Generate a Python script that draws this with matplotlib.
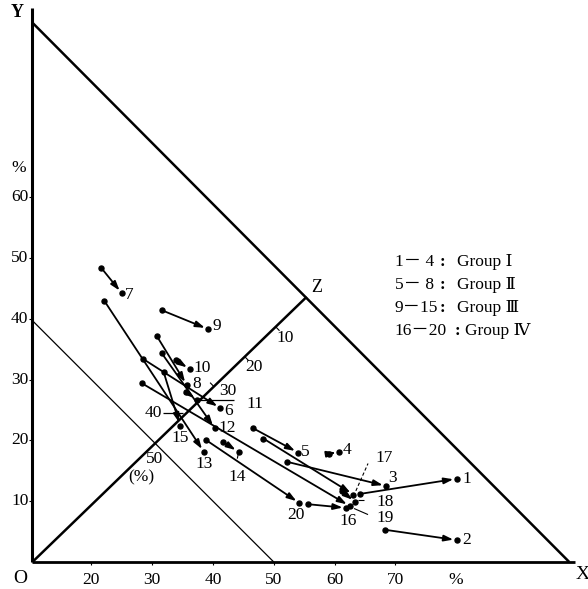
import matplotlib
matplotlib.use('Agg')
import matplotlib.pyplot as plt
import numpy as np

plt.rcParams['font.family'] = ['Liberation Serif', 'DejaVu Serif', 'Noto Sans CJK JP']

# sample numbers and their start / end positions (x %, y %)
ids = list(range(1, 21))
x_start = [64.2, 68.3, 52.1, 59.0, 46.6, 28.5, 21.6, 30.8, 31.6, 33.9,
           35.6, 31.6, 22.1, 41.6, 31.9, 55.7, 48.3, 61.2, 28.3, 38.8]
y_start = [11.2, 5.3, 16.5, 17.8, 22.0, 33.4, 48.4, 37.1, 41.4, 33.2,
           28.0, 34.3, 43.0, 19.8, 31.2, 9.5, 20.3, 11.6, 29.4, 20.1]
x_end = [80.1, 80.1, 68.5, 60.8, 54.0, 41.2, 25.0, 35.7, 39.2, 36.2,
         37.4, 40.3, 38.5, 44.2, 34.6, 61.9, 63.1, 63.4, 62.5, 54.2]
y_end = [13.7, 3.6, 12.5, 18.1, 18.0, 25.3, 44.2, 29.1, 38.3, 31.7,
         26.6, 22.0, 18.1, 18.1, 22.4, 8.9, 11.1, 9.9, 9.2, 9.7]

group_ranges = ['1－ 4', '5－ 8', '9－15', '16－20']
group_names = ['Group Ⅰ', 'Group Ⅱ', 'Group Ⅲ', 'Group Ⅳ']
x_ticks = [20, 30, 40, 50, 60, 70]
y_ticks = [10, 20, 30, 40, 50, 60]
diag_ticks = [10, 20, 30, 40, 50]

# frame of the diagram
O = (10.3, 0.0)
Yv = (10.3, 88.7)
Xv = (98.6, 0.0)
Z = (55.4, 43.6)

fig = plt.figure(figsize=(5.88, 5.89), dpi=100)
ax = fig.add_axes([0, 0, 1, 1])
ax.set_xlim(4.97, 101.68)
ax.set_ylim(-4.44, 92.43)
ax.axis('off')

k = dict(color='black', solid_capstyle='butt')
ax.plot([O[0], 99.6], [0, 0], lw=2.0, **k)
ax.plot([O[0], O[0]], [0, 91.1], lw=2.2, **k)
ax.plot([Yv[0], Xv[0]], [Yv[1], Xv[1]], lw=1.8, **k)
ax.plot([O[0], Z[0]], [O[1], Z[1]], lw=1.8, **k)
ax.plot([O[0], 50.0], [39.7, 0.0], lw=0.9, **k)

fs = 12.5
# axis ticks and labels
for v in x_ticks:
    ax.plot([v, v], [0, -0.5], lw=0.8, **k)
    ax.annotate(str(v), (v, 0), xytext=(0, -18), textcoords='offset pixels',
                ha='center', va='center', fontsize=fs)
ax.annotate('%', (80, 0), xytext=(0, -18), textcoords='offset pixels',
            ha='center', va='center', fontsize=fs)
for v in y_ticks:
    ax.plot([O[0] - 0.6, O[0]], [v, v], lw=0.8, **k)
    ax.annotate(str(v), (O[0], v), xytext=(-4, 0), textcoords='offset pixels',
                ha='right', va='center', fontsize=fs)
ax.annotate('%', (O[0], 64.8), xytext=(-14, 0), textcoords='offset pixels',
            ha='center', va='center', fontsize=fs)

ax.annotate('Y', Yv, xytext=(-15, 10), textcoords='offset pixels',
            ha='center', va='center', fontsize=13, fontweight='bold')
ax.annotate('O', O, xytext=(-12, -16), textcoords='offset pixels',
            ha='center', va='center', fontsize=14)
ax.annotate('X', Xv, xytext=(13, -12), textcoords='offset pixels',
            ha='center', va='center', fontsize=14)
ax.annotate('Z', Z, xytext=(10, 9), textcoords='offset pixels',
            ha='center', va='center', fontsize=13)

# scale along O-Z (distance from the X-Y side)
sO = O[0] + O[1]
sZ = Z[0] + Z[1]
d = np.array([Z[0] - O[0], Z[1] - O[1]])
u = d / np.hypot(*d)
nrm = np.array([u[1], -u[0]])
diag_off = {10: (9, -11), 20: (9, -10), 30: (14, -4), 40: (-30, 3), 50: (3, -13)}
for v in diag_ticks:
    t = (sZ - sO - v) / (sZ - sO)
    p = np.array(O) + t * d
    if v in (10, 20):
        a, b = p, p + nrm * 0.9
        ax.plot([a[0], b[0]], [a[1], b[1]], lw=0.8, **k)
    elif v == 30:
        a, b = p, p - nrm * 0.9
        ax.plot([a[0], b[0]], [a[1], b[1]], lw=0.8, **k)
    elif v == 40:
        ax.plot([p[0] - 3.3, p[0]], [p[1] + 0.5, p[1] + 0.5], lw=0.9, **k)
    ax.annotate(str(v), p, xytext=diag_off[v], textcoords='offset pixels',
                ha='center', va='center', fontsize=fs)
    if v == 50:
        ax.annotate('(%)', p, xytext=(-11, -31), textcoords='offset pixels',
                    ha='center', va='center', fontsize=fs)

# arrows
lab_off = {1: (10, 0), 2: (10, 0), 3: (6, 8), 4: (8, 2), 5: (7, 1), 6: (8, -3),
           7: (7, -2), 8: (10, 1), 9: (9, 3), 10: (12, 1), 11: (49, -4),
           12: (12, 0), 13: (0, -12), 14: (-1, -25), 15: (0, -12), 16: (2, -13),
           17: (22, 37), 18: (21, 0), 19: (27, -12), 20: (-3, -12)}
for i, x0, y0, x1, y1 in zip(ids, x_start, y_start, x_end, y_end):
    ax.annotate('', xy=(x1, y1), xytext=(x0, y0),
                arrowprops=dict(arrowstyle='-|>,head_length=0.55,head_width=0.18',
                                lw=1.3, color='black', shrinkA=0, shrinkB=2.5))
    ax.plot([x0, x1], [y0, y1], 'o', ms=3.6, color='black')
    ax.annotate(str(i), (x1, y1), xytext=lab_off[i], textcoords='offset pixels',
                ha='center' if lab_off[i][0] < 20 else 'left', va='center', fontsize=fs)

# leader lines for crowded labels
ax.plot([37.4, 43.4], [26.6, 26.6], lw=0.9, **k)
ax.plot([44.0, 44.2], [17.0, 18.0], lw=0.8, **k)
ax.plot([63.8, 64.8], [10.2, 10.2], lw=0.8, **k)
ax.plot([63.2, 65.5], [8.8, 7.8], lw=0.8, **k)
ax.plot([63.5, 65.5], [11.7, 16.2], lw=0.8, ls=(0, (3, 2)), **k)

# legend text
colon_x = [77.8, 77.8, 77.8, 80.2]
name_x = [80.1, 80.1, 80.1, 81.4]
for j, (r, g) in enumerate(zip(group_ranges, group_names)):
    yy = 49.3 - 3.78 * j
    ax.text(69.9, yy, r, ha='left', va='center', fontsize=12.5)
    ax.text(colon_x[j], yy, ':', ha='center', va='center', fontsize=12.5,
            fontweight='bold')
    ax.text(name_x[j], yy, g, ha='left', va='center', fontsize=12.5)

fig.savefig('out.png', dpi=100)
